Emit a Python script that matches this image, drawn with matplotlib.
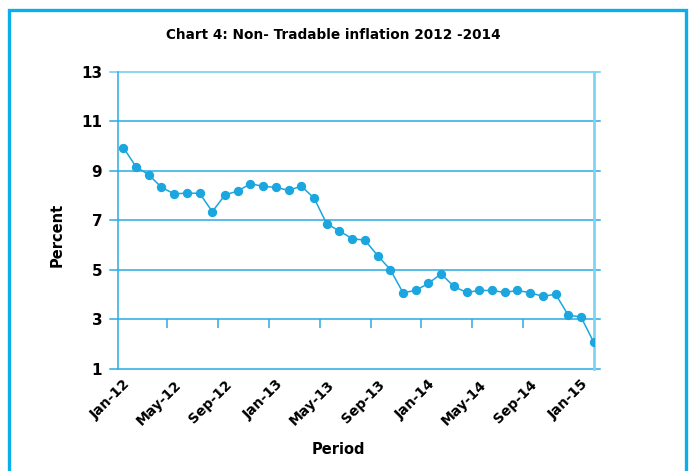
import matplotlib
matplotlib.use("Agg")
import matplotlib.pyplot as plt
from matplotlib.patches import Rectangle

months = ["Jan-12", "Feb-12", "Mar-12", "Apr-12", "May-12", "Jun-12", "Jul-12", "Aug-12",
          "Sep-12", "Oct-12", "Nov-12", "Dec-12", "Jan-13", "Feb-13", "Mar-13", "Apr-13",
          "May-13", "Jun-13", "Jul-13", "Aug-13", "Sep-13", "Oct-13", "Nov-13", "Dec-13",
          "Jan-14", "Feb-14", "Mar-14", "Apr-14", "May-14", "Jun-14", "Jul-14", "Aug-14",
          "Sep-14", "Oct-14", "Nov-14", "Dec-14", "Jan-15", "Feb-15"]
inflation = [9.94, 9.16, 8.84, 8.33, 8.07, 8.10, 8.09, 7.35, 8.03, 8.18, 8.48, 8.37, 8.33,
             8.21, 8.38, 7.90, 6.86, 6.57, 6.26, 6.20, 5.58, 5.01, 4.08, 4.17, 4.46, 4.84,
             4.33, 4.09, 4.17, 4.17, 4.09, 4.17, 4.08, 3.93, 4.02, 3.17, 3.10, 2.08]
yticks = [1, 3, 5, 7, 9, 11, 13]
label_step = 4

W, H = 696, 471
fig = plt.figure(figsize=(W / 100, H / 100), dpi=100)
fig.patch.set_facecolor("white")

# outer frame
fig.patches.append(Rectangle((9 / W, -0.05), (686 - 9) / W, 1.05 - 10 / H,
                             transform=fig.transFigure, fill=False,
                             edgecolor="#0AAEEB", linewidth=2.4))

ax = fig.add_axes([117.5 / W, 1 - 369 / H, (593.7 - 117.5) / W, (369 - 71.7) / H])
x = list(range(len(months)))
ax.set_xlim(-0.46, len(months) - 1)
ax.set_ylim(1, 13)

grid_col = "#29ABE2"
ytr = ax.get_yaxis_transform()
for v in yticks:
    col = "#6DCDF1" if v == 13 else grid_col
    ax.plot([-0.016, 1.013], [v, v], transform=ytr, color=col, lw=1.1,
            clip_on=False, zorder=1)

# small tick marks on the 3-line
xt = [i + 3.45 for i in range(0, 29, label_step)]
ax.vlines(xt, 2.64, 3, color=grid_col, lw=1.1, zorder=1)

ax.plot(x, inflation, color="#1BA6DF", lw=1.1, marker="o", markersize=5.7,
        markerfacecolor="#1BA6DF", markeredgecolor="#1BA6DF", zorder=3)

for s in ["top", "bottom"]:
    ax.spines[s].set_visible(False)
ax.spines["left"].set_color(grid_col)
ax.spines["left"].set_linewidth(1.1)
ax.spines["right"].set_color("#7FD4F4")
ax.spines["right"].set_linewidth(2.0)

ax.set_yticks(yticks)
ax.set_yticklabels([str(v) for v in yticks], fontsize=11, fontweight="bold")
ax.tick_params(axis="y", length=0, pad=11)
ax.set_xticks(x[::label_step])
ax.set_xticklabels(months[::label_step], rotation=45, ha="right",
                   rotation_mode="anchor", fontsize=10, fontweight="bold")
ax.tick_params(axis="x", length=0, pad=6)

fig.text(333 / W, 1 - 35 / H, "Chart 4: Non- Tradable inflation 2012 -2014",
         ha="center", va="center", fontsize=9.8, fontweight="bold")
fig.text(57 / W, 1 - 235 / H, "Percent", rotation=90, ha="center", va="center",
         fontsize=10.5, fontweight="bold")
fig.text(338 / W, 1 - 449 / H, "Period", ha="center", va="center",
         fontsize=10.5, fontweight="bold")

fig.savefig("out.png", dpi=100)
